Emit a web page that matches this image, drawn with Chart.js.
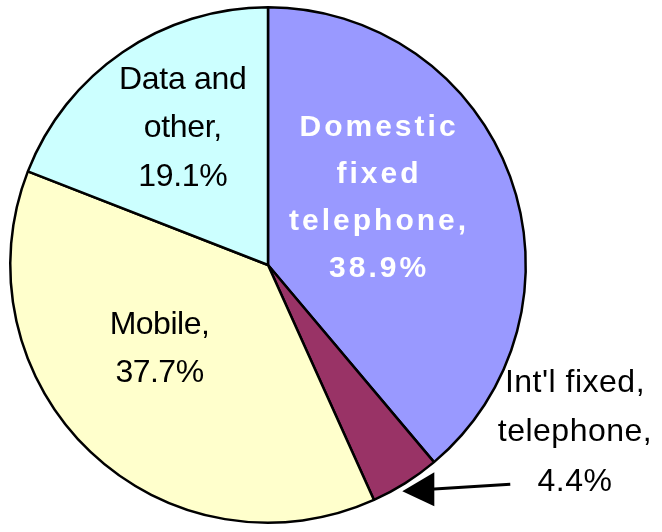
<!DOCTYPE html>
<html>
<head>
  <meta charset="UTF-8">
  <title>Revenue shares</title>
  <script src="https://cdn.jsdelivr.net/npm/chart.js"></script>
  <style>
    body { margin: 0; background: #fff; }
    canvas { display: block; }
  </style>
</head>
<body>
  <canvas id="pie" width="662" height="532"></canvas>
  <script>
    const categories = ['Domestic fixed telephone', "Int'l fixed telephone", 'Mobile', 'Data and other'];
    const shares = [38.9, 4.4, 37.7, 19.1];
    const sliceColors = ['#9999FF', '#993366', '#FFFFCC', '#CCFFFF'];
    const labelLines = [
      ['Domestic', 'fixed', 'telephone,', '38.9%'],
      ["Int'l fixed,", 'telephone,', '4.4%'],
      ['Mobile,', '37.7%'],
      ['Data and', 'other,', '19.1%']
    ];

    // label block centre, as a fraction of the radius from the pie centre
    const labelSpots = [
      { dx: 0.425, dy: -0.26, bold: true, color: '#fff', size: 30, spacing: 3, lh: 47 },
      { dx: 1.19, dy: 0.65, bold: false, color: '#000', size: 32, spacing: 0.5, lh: 49.5 },
      { dx: -0.42, dy: 0.325, bold: false, color: '#000', size: 32, spacing: -0.5, lh: 48 },
      { dx: -0.33, dy: -0.53, bold: false, color: '#000', size: 32, spacing: -0.3, lh: 48.5 }
    ];

    const sliceLabels = {
      id: 'sliceLabels',
      afterDatasetsDraw(chart) {
        const ctx = chart.ctx;
        const arcs = chart.getDatasetMeta(0).data;
        const cx = arcs[0].x, cy = arcs[0].y, r = arcs[0].outerRadius;
        ctx.save();
        ctx.textAlign = 'center';
        ctx.textBaseline = 'middle';
        labelLines.forEach((lines, i) => {
          const s = labelSpots[i];
          ctx.font = (s.bold ? 'bold ' : '') + s.size + 'px "Liberation Sans", Arial, sans-serif';
          ctx.fillStyle = s.color;
          ctx.letterSpacing = s.spacing + 'px';
          const x0 = cx + s.dx * r;
          const y0 = cy + s.dy * r - (lines.length - 1) * s.lh / 2;
          lines.forEach((t, k) => {
            ctx.fillText(t, x0 + s.spacing / 2, y0 + k * s.lh);
          });
        });
        ctx.letterSpacing = '0px';

        // arrow from the Int'l label to its slice
        const a = arcs[1];
        const mid = (a.startAngle + a.endAngle) / 2;
        const tipX = cx + Math.cos(mid) * r - 3;
        const tipY = cy + Math.sin(mid) * r + 8;
        const tailX = cx + 0.94 * r;
        const tailY = tipY - 7;
        ctx.strokeStyle = '#000';
        ctx.lineWidth = 3;
        ctx.beginPath();
        ctx.moveTo(tailX, tailY);
        ctx.lineTo(tipX + 28, tipY - 2);
        ctx.stroke();
        ctx.fillStyle = '#000';
        ctx.beginPath();
        ctx.moveTo(tipX, tipY);
        ctx.lineTo(tipX + 32, tipY - 19);
        ctx.lineTo(tipX + 32, tipY + 15);
        ctx.closePath();
        ctx.fill();
        ctx.restore();
      }
    };

    new Chart(document.getElementById('pie'), {
      type: 'pie',
      data: {
        labels: categories,
        datasets: [{
          data: shares,
          backgroundColor: sliceColors,
          borderColor: '#000',
          borderWidth: 2.5,
          borderAlign: 'center'
        }]
      },
      options: {
        responsive: false,
        animation: false,
        layout: { padding: { left: 9, right: 135, top: 6, bottom: 8 } },
        plugins: {
          legend: { display: false },
          tooltip: { enabled: false }
        }
      },
      plugins: [sliceLabels]
    });
  </script>
</body>
</html>
